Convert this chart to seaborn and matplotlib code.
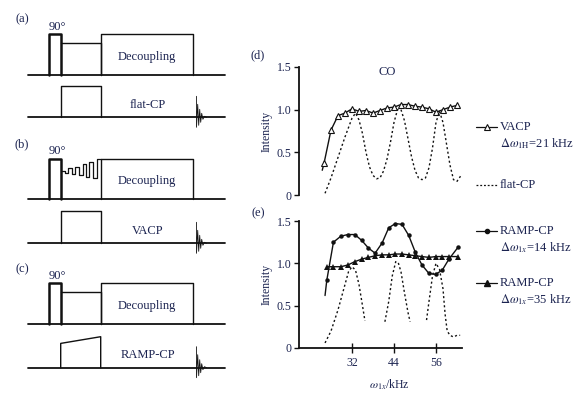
import numpy as np
import matplotlib
matplotlib.use("Agg")
import matplotlib.pyplot as plt
import seaborn as sns

# ---- data ----
# (d) VACP, delta w1H = 21 kHz
vacp_x = [23.5, 24, 26, 28, 30, 32, 34, 36, 38, 40, 42, 44, 46, 48, 50, 52, 54, 56, 58, 60, 62]
vacp_y = [0.29, 0.37, 0.76, 0.93, 0.96, 1.01, 0.98, 0.99, 0.96, 0.99, 1.02, 1.03, 1.06, 1.06,
          1.04, 1.03, 1.01, 0.97, 1.00, 1.03, 1.05]

# (d) flat-CP
flat_d_x = [24.3, 26, 28, 30, 32, 33, 34, 35, 36, 37, 38, 39, 40, 41, 42, 43, 44, 45, 46, 47,
            48, 49, 50, 51, 52, 53, 54, 55, 56, 57, 58, 59, 60, 61, 62, 63]
flat_d_y = [0.02, 0.2, 0.44, 0.68, 0.9, 0.96, 0.88, 0.72, 0.5, 0.33, 0.23, 0.19, 0.2, 0.28,
            0.42, 0.62, 0.85, 1.0, 1.0, 0.87, 0.66, 0.45, 0.29, 0.2, 0.18, 0.2, 0.32, 0.55,
            0.85, 0.98, 0.85, 0.6, 0.35, 0.18, 0.16, 0.22]

# (e) RAMP-CP, delta w1x = 14 kHz
ramp14_x = [24.3, 24.8, 26.7, 28.8, 30.8, 32.8, 34.8, 36.7, 38.6, 40.6, 42.5, 44.4, 46.3,
            48.2, 50.1, 52, 54, 55.9, 57.8, 59.7, 62.3]
ramp14_y = [0.62, 0.8, 1.25, 1.32, 1.34, 1.34, 1.27, 1.18, 1.12, 1.24, 1.42, 1.47, 1.46,
            1.33, 1.13, 0.98, 0.88, 0.87, 0.92, 1.05, 1.19]

# (e) RAMP-CP, delta w1x = 35 kHz
ramp35_x = [24.8, 26.7, 28.8, 30.8, 32.8, 34.8, 36.7, 38.6, 40.6, 42.5, 44.4, 46.3, 48.2,
            50.1, 52, 54, 55.9, 57.8, 59.7, 62.3]
ramp35_y = [0.96, 0.96, 0.96, 0.98, 1.02, 1.05, 1.07, 1.09, 1.10, 1.10, 1.11, 1.11, 1.10,
            1.09, 1.08, 1.07, 1.08, 1.08, 1.08, 1.08]

# (e) flat-CP, drawn as three pieces
flat_e_segments = [
    ([24.3, 26, 28, 30, 31, 32, 33, 34, 35, 35.7],
     [0.06, 0.2, 0.45, 0.75, 0.9, 0.96, 0.92, 0.75, 0.5, 0.32]),
    ([41.4, 42.5, 43.5, 44.5, 45.2, 46, 47, 48, 48.6],
     [0.31, 0.55, 0.85, 1.02, 1.01, 0.9, 0.65, 0.42, 0.31]),
    ([53.3, 54, 55, 56, 57, 58, 58.6, 59.2, 60, 61, 62, 62.9],
     [0.33, 0.55, 0.85, 1.0, 0.93, 0.7, 0.4, 0.2, 0.15, 0.13, 0.15, 0.15]),
]

yticks = [0, 0.5, 1.0, 1.5]
ytick_labels = ["0", "0.5", "1.0", "1.5"]
xticks = [32, 44, 56]

# pulse-sequence schematic (pixel units, heights above the baseline)
seq_labels = ["(a)", "(b)", "(c)"]
seq_cp_names = ["flat-CP", "VACP", "RAMP-CP"]
base_1h = [74.7, 199.3, 324.0]
base_x = [117.3, 243.3, 367.7]
t_start, t_90, t_cp, t_dec, t_end, t_fid = 28, 49.3, 60.7, 100.7, 193.3, 196.5
h_pulse, h_lock = 40.7, 32.0
cp_heights = [(31.3, 31.3), (32.3, 32.3), (24.3, 31.0)]
# variable-amplitude spin lock of (b)
va_t = [60.7, 65, 65, 68.3, 68.3, 71.7, 71.7, 75, 75, 79.3, 79.3, 82.7, 82.7, 86, 86,
        89.3, 89.3, 93.3, 93.3, 96.7, 96.7, 100.7]
va_h = [28.7, 28.7, 26.7, 26.7, 31, 31, 25.3, 25.3, 32.7, 32.7, 24.3, 24.3, 35.3, 35.3,
        22.7, 22.7, 37, 37, 21, 21, 40.7, 40.7]
fid_dt = [0, 0, 1.2, 2.2, 3.2, 4.2, 5.2, 6.4, 8, 10]
fid_dh = [-21, 10, -13, 8, -8, 5, -4, 2, -1, 0]

# legend rows on the right
leg_rows = [127, 185, 231, 283]

# ---- style ----
sns.set_style("white")
plt.rcParams["font.family"] = ["Liberation Serif", "DejaVu Serif"]
plt.rcParams["mathtext.fontset"] = "stix"
txt = "#1b2350"
ink = "#111111"

fig = plt.figure(figsize=(5.84, 3.96), dpi=100)

# overlay in pixel units for schematic and legend
ax0 = fig.add_axes([0, 0, 1, 1])
ax0.set_xlim(0, 584)
ax0.set_ylim(396, 0)
ax0.axis("off")

for i in range(3):
    b1, b2 = base_1h[i], base_x[i]
    ax0.plot([t_start, 225], [b1, b1], color=ink, lw=1.3)
    ax0.plot([t_start, 225], [b2, b2], color=ink, lw=1.3)
    # 90 degree pulse
    ax0.plot([t_90, t_90, t_cp, t_cp], [b1, b1 - h_pulse, b1 - h_pulse, b1], color=ink, lw=1.8)
    # spin lock on 1H
    if i == 1:
        ax0.plot(va_t, [b1 - h for h in va_h], color=ink, lw=0.9)
    else:
        ax0.plot([t_cp, t_dec, t_dec], [b1 - h_lock, b1 - h_lock, b1], color=ink, lw=1.0)
    # decoupling
    ax0.plot([t_dec, t_dec, t_end, t_end], [b1, b1 - h_pulse, b1 - h_pulse, b1], color=ink, lw=1.0)
    ax0.text((t_dec + t_end) / 2, b1 - 18, "Decoupling", color=txt, fontsize=9,
             ha="center", va="center")
    # CP on X channel
    h0, h1 = cp_heights[i]
    ax0.plot([t_cp, t_cp, t_dec, t_dec], [b2, b2 - h0, b2 - h1, b2], color=ink, lw=1.0)
    ax0.text(148, b2 - 12.5, seq_cp_names[i], color=txt, fontsize=9, ha="center", va="center")
    # FID
    ax0.plot([t_fid + d for d in fid_dt], [b2 + h for h in fid_dh], color=ink, lw=0.6)
    ax0.text(22, b1 - 55, seq_labels[i], color=txt, fontsize=9, ha="center", va="center")
    ax0.text(57, b1 - 48, "90°", color=txt, fontsize=9, ha="center", va="center")

ax0.text(258, 55, "(d)", color=txt, fontsize=9, ha="center", va="center")
ax0.text(258, 213, "(e)", color=txt, fontsize=9, ha="center", va="center")

# legend samples
lx = [476, 497]
ax0.plot(lx, [leg_rows[0]] * 2, color=ink, lw=0.9)
ax0.plot([486.5], [leg_rows[0]], marker="^", ms=4, mfc="white", mec=ink, mew=0.8)
ax0.plot(lx, [leg_rows[1]] * 2, color=ink, lw=0.9, ls=(0, (1.5, 1.5)))
ax0.plot(lx, [leg_rows[2]] * 2, color=ink, lw=0.9)
ax0.plot([486.5], [leg_rows[2]], marker="o", ms=3, color=ink)
ax0.plot(lx, [leg_rows[3]] * 2, color=ink, lw=0.9)
ax0.plot([486.5], [leg_rows[3]], marker="^", ms=4, color=ink)
leg_text = [("VACP", r"$\Delta\omega_{\rm 1H}$=21 kHz"), ("flat-CP", None),
            ("RAMP-CP", r"$\Delta\omega_{1x}$=14 kHz"), ("RAMP-CP", r"$\Delta\omega_{1x}$=35 kHz")]
for row, (main, sub) in zip(leg_rows, leg_text):
    ax0.text(500, row, main, color=txt, fontsize=9, ha="left", va="center")
    if sub:
        ax0.text(500, row + 16.5, sub, color=txt, fontsize=9, ha="left", va="center")

# ---- data panels ----
xlim = (16.86, 63.43)
ax_d = fig.add_axes([299 / 584, 1 - 195 / 396, 163 / 584, 128 / 396])
ax_e = fig.add_axes([299 / 584, 1 - 348 / 396, 163 / 584, 127 / 396])

sns.lineplot(x=vacp_x, y=vacp_y, ax=ax_d, color=ink, lw=1.0, sort=False, estimator=None,
             marker="^", markersize=4, markerfacecolor="white", markeredgecolor=ink,
             markeredgewidth=0.8, markevery=list(range(1, len(vacp_x))))
sns.lineplot(x=flat_d_x, y=flat_d_y, ax=ax_d, color=ink, lw=1.0, sort=False, estimator=None,
             linestyle=(0, (1.5, 1.8)))

sns.lineplot(x=ramp14_x, y=ramp14_y, ax=ax_e, color=ink, lw=1.0, sort=False, estimator=None,
             marker="o", markersize=3.2, markeredgewidth=0,
             markevery=list(range(1, len(ramp14_x))))
sns.lineplot(x=ramp35_x, y=ramp35_y, ax=ax_e, color=ink, lw=1.0, sort=False, estimator=None,
             marker="^", markersize=4, markeredgewidth=0)
for sx, sy in flat_e_segments:
    sns.lineplot(x=sx, y=sy, ax=ax_e, color=ink, lw=1.0, sort=False, estimator=None,
                 linestyle=(0, (1.5, 1.8)))

for ax in (ax_d, ax_e):
    ax.set_facecolor("none")
    ax.set_xlim(*xlim)
    ax.set_ylim(0, 1.5)
    ax.set_yticks(yticks)
    ax.set_yticklabels(ytick_labels)
    ax.tick_params(axis="y", direction="out", length=3.5, width=1.0, colors=ink,
                   labelcolor=txt, labelsize=8.5, pad=2, left=True)
    for s in ("top", "right"):
        ax.spines[s].set_visible(False)
    ax.spines["left"].set_linewidth(1.3)
    ax.spines["left"].set_color(ink)
    ax.set_ylabel("Intensity", color=txt, fontsize=8.5, labelpad=3)

ax_d.spines["bottom"].set_visible(False)
ax_d.set_xticks([])
ax_d.set_title("CO", color=txt, fontsize=9, pad=-3, x=0.54, y=0.97)

ax_e.spines["bottom"].set_linewidth(1.3)
ax_e.spines["bottom"].set_color(ink)
ax_e.set_xticks(xticks)
ax_e.tick_params(axis="x", direction="inout", length=7, width=1.0, colors=ink,
                 labelcolor=txt, labelsize=8.5, pad=3, bottom=True)
ax_e.set_xlabel(r"$\omega_{1x}$/kHz", color=txt, fontsize=8.5)
ax_e.xaxis.set_label_coords((389.5 - 299) / 163, -0.235)

fig.savefig("out.png", dpi=100)
